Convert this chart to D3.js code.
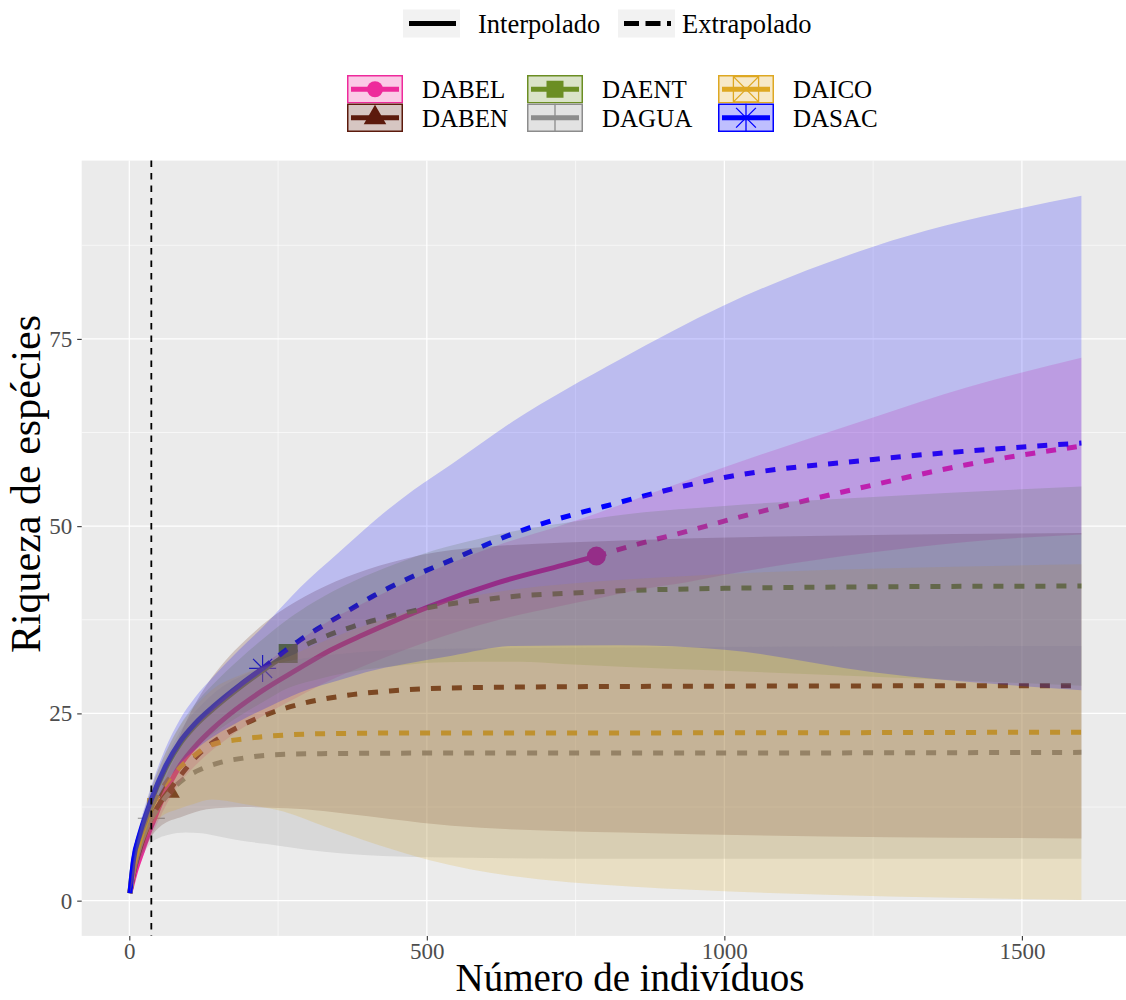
<!DOCTYPE html>
<html>
<head>
<meta charset="utf-8">
<script src="https://cdn.jsdelivr.net/npm/d3@7"></script>
<style>
  body { margin: 0; background: #ffffff; }
  svg { display: block; }
  text { font-family: "Liberation Serif", "Times New Roman", serif; }
</style>
</head>
<body>
<svg id="chart" width="1126" height="1000"></svg>
<script>
// Sample-size-based rarefaction / extrapolation curves (iNEXT style)
const siteNames   = ["DABEL", "DABEN", "DAENT", "DAGUA", "DAICO", "DASAC"];
const siteColors  = ["#EE2A9B", "#5C1A0C", "#6B8E23", "#8C8C8C", "#DEA822", "#0000FF"];
const siteShapes  = ["circle", "triangle", "square", "plus", "squareCross", "asterisk"];
const observedN   = [785, 66, 267, 37, 40, 224];
const referenceSize = 37;

// number of individuals (m), estimated richness, lower and upper 95% limits
const dabelM   = [1, 10, 21, 32, 40, 57, 85, 113, 141, 169, 225, 281, 337, 393, 505, 617, 729, 785, 864, 937, 1001, 1250, 1407, 1600];
const dabelEst = [1, 3.8, 6.4, 8.9, 10.5, 13.8, 18.0, 20.8, 23.0, 24.9, 28.1, 30.8, 33.4, 35.5, 39.3, 42.4, 44.8, 46.0, 47.8, 49.3, 50.7, 55.5, 58.2, 60.7];
const dabelLo  = [1, 3.2, 5.5, 7.7, 9.1, 12.0, 15.7, 18.2, 20.2, 21.9, 24.7, 27.1, 29.4, 31.3, 34.7, 37.4, 39.4, 40.3, 41.6, 42.5, 43.5, 46.5, 47.9, 48.9];
const dabelHi  = [1, 4.4, 7.3, 10.1, 11.9, 15.6, 20.3, 23.4, 25.8, 27.9, 31.5, 34.5, 37.4, 39.7, 43.9, 47.4, 50.2, 51.7, 54.0, 56.1, 57.9, 64.5, 68.5, 72.5];

const dabenM   = [1, 5, 10, 20, 30, 40, 52, 66, 85, 110, 130, 161, 194, 236, 295, 365, 438, 542, 830, 1600];
const dabenEst = [1, 2.9, 4.7, 7.5, 9.7, 11.5, 13.1, 14.6, 16.6, 19.0, 20.5, 22.2, 23.6, 25.0, 26.4, 27.4, 28.0, 28.4, 28.6, 28.7];
const dabenLo  = [1, 2.2, 3.7, 5.9, 7.6, 8.9, 9.9, 10.6, 11.1, 11.8, 12.2, 12.4, 12.5, 12.4, 12.2, 11.6, 10.9, 10.0, 9.1, 8.3];
const dabenHi  = [1, 3.6, 5.7, 9.1, 11.8, 14.1, 16.3, 18.6, 22.1, 26.2, 28.8, 32.0, 34.7, 37.6, 40.6, 43.2, 45.1, 46.8, 48.1, 49.1];

const daentM   = [1, 7, 18, 29, 37, 60, 85, 110, 141, 186, 224, 267, 309, 376, 446, 514, 587, 657, 729, 836, 1000, 1250, 1600];
const daentEst = [1, 5.2, 8.8, 11.5, 13.3, 17.5, 20.9, 23.3, 25.6, 28.5, 30.7, 33.0, 34.6, 36.6, 38.1, 39.3, 40.1, 40.7, 41.0, 41.4, 41.7, 41.9, 42.0];
const daentLo  = [1, 4.5, 7.7, 10.1, 11.7, 15.4, 18.4, 20.4, 22.3, 24.7, 26.5, 28.4, 29.4, 30.6, 31.3, 31.8, 31.9, 31.9, 31.6, 31.2, 30.7, 29.9, 28.7];
const daentHi  = [1, 5.9, 9.9, 12.9, 14.9, 19.6, 23.4, 26.2, 28.9, 32.3, 34.9, 37.6, 39.8, 42.6, 44.9, 46.8, 48.3, 49.5, 50.4, 51.6, 52.7, 53.9, 55.3];

const daguaM   = [1, 5, 10, 18, 27, 37, 66, 94, 122, 155, 189, 228, 298, 505, 836, 1600];
const daguaEst = [1, 3.0, 4.9, 7.3, 9.3, 11.0, 14.3, 16.4, 17.6, 18.5, 19.0, 19.4, 19.6, 19.7, 19.7, 19.8];
const daguaLo  = [1, 2.2, 3.6, 5.3, 6.7, 7.7, 8.8, 9.1, 9.0, 8.5, 8.0, 7.6, 6.8, 5.8, 5.6, 5.6];
const daguaHi  = [1, 3.8, 6.2, 9.3, 11.9, 14.3, 19.8, 23.7, 26.2, 28.5, 30.0, 31.2, 32.4, 33.6, 33.8, 34.0];

const daicoM   = [1, 5, 10, 20, 30, 40, 52, 85, 108, 138, 192, 259, 332, 505, 841, 1600];
const daicoEst = [1, 3.4, 5.5, 8.6, 10.9, 12.9, 14.6, 17.8, 19.3, 20.8, 21.6, 22.1, 22.3, 22.4, 22.4, 22.5];
const daicoLo  = [1, 2.6, 4.3, 6.8, 8.6, 10.1, 11.1, 12.3, 12.9, 13.5, 12.9, 11.9, 9.8, 5.4, 1.9, 0.1];
const daicoHi  = [1, 4.2, 6.7, 10.4, 13.2, 15.7, 18.1, 23.3, 25.7, 28.1, 30.3, 32.3, 34.8, 39.4, 42.9, 44.9];

const dasacM   = [1, 7, 18, 29, 37, 60, 85, 110, 141, 186, 224, 287, 351, 413, 477, 542, 645, 825, 1000, 1250, 1600];
const dasacEst = [1, 5.4, 9.0, 11.7, 13.5, 17.8, 21.2, 23.6, 25.9, 28.8, 31.0, 34.8, 37.9, 40.8, 43.3, 45.5, 49.0, 53.2, 56.5, 58.9, 61.1];
const dasacLo  = [1, 4.6, 7.7, 10.1, 11.7, 15.4, 18.2, 20.1, 21.9, 24.0, 25.5, 27.8, 29.4, 30.8, 31.8, 32.7, 34.0, 34.1, 33.5, 30.5, 28.1];
const dasacHi  = [1, 6.2, 10.3, 13.3, 15.3, 20.2, 24.2, 27.1, 29.9, 33.6, 36.5, 41.8, 46.4, 50.8, 54.8, 58.3, 64.0, 72.3, 79.5, 87.3, 94.1];

const xTicks = [0, 500, 1000, 1500];
const yTicks = [0, 25, 50, 75];
const xLabel = "Número de indivíduos";
const yLabel = "Riqueza de espécies";
const methodLabels = ["Interpolado", "Extrapolado"];

const curves = [
  [dabelM, dabelEst, dabelLo, dabelHi],
  [dabenM, dabenEst, dabenLo, dabenHi],
  [daentM, daentEst, daentLo, daentHi],
  [daguaM, daguaEst, daguaLo, daguaHi],
  [daicoM, daicoEst, daicoLo, daicoHi],
  [dasacM, dasacEst, dasacLo, dasacHi]
];

const sites = siteNames.map((name, i) => {
  const [m, est, lo, hi] = curves[i];
  const rows = m.map((v, j) => ({ m: v, est: est[j], lo: lo[j], hi: hi[j] }));
  const n = observedN[i];
  return {
    name, color: siteColors[i], shape: siteShapes[i], n,
    rows,
    interp: rows.filter(r => r.m <= n),
    extrap: rows.filter(r => r.m >= n),
    obs: rows.find(r => r.m === n)
  };
});

const svg = d3.select("#chart");
const panel = { left: 81.7, right: 1129, top: 160.6, bottom: 935.9 };

const allX = sites.flatMap(s => s.rows.map(r => r.m));
const allY = sites.flatMap(s => s.rows.flatMap(r => [r.lo, r.hi]));
const xMin = 0, xMax = d3.max(allX);
const yMin = 0, yMax = d3.max(allY);
const xPad = (xMax - xMin) * 0.05, yPad = (yMax - yMin) * 0.05;

const x = d3.scaleLinear().domain([xMin - xPad, xMax + xPad]).range([panel.left, panel.right]);
const y = d3.scaleLinear().domain([yMin - yPad, yMax + yPad]).range([panel.bottom, panel.top]);

// panel background and grid
svg.append("rect")
  .attr("x", panel.left).attr("y", panel.top)
  .attr("width", panel.right - panel.left).attr("height", panel.bottom - panel.top)
  .attr("fill", "#EBEBEB");

const xMinor = [250, 750, 1250];
const yMinor = [12.5, 37.5, 62.5, 87.5];
const grid = svg.append("g");
grid.selectAll(".xminor").data(xMinor).join("line")
  .attr("x1", d => x(d)).attr("x2", d => x(d)).attr("y1", panel.top).attr("y2", panel.bottom)
  .attr("stroke", "#ffffff").attr("stroke-width", 0.6);
grid.selectAll(".yminor").data(yMinor).join("line")
  .attr("x1", panel.left).attr("x2", panel.right).attr("y1", d => y(d)).attr("y2", d => y(d))
  .attr("stroke", "#ffffff").attr("stroke-width", 0.6);
grid.selectAll(".xmajor").data(xTicks).join("line")
  .attr("x1", d => x(d)).attr("x2", d => x(d)).attr("y1", panel.top).attr("y2", panel.bottom)
  .attr("stroke", "#ffffff").attr("stroke-width", 1.2);
grid.selectAll(".ymajor").data(yTicks).join("line")
  .attr("x1", panel.left).attr("x2", panel.right).attr("y1", d => y(d)).attr("y2", d => y(d))
  .attr("stroke", "#ffffff").attr("stroke-width", 1.2);

// marker shapes
function markerPath(shape, s) {
  const h = s / 2;
  switch (shape) {
    case "circle": return d3.symbol(d3.symbolCircle, Math.PI * h * h)();
    case "square": return d3.symbol(d3.symbolSquare, s * s)();
    case "triangle": return d3.symbol(d3.symbolTriangle, s * s * 0.5)();
    case "plus": return `M${-h},0H${h}M0,${-h}V${h}`;
    case "asterisk": {
      const a = h * 0.707;
      return `M${-h},0H${h}M0,${-h}V${h}M${-a},${-a}L${a},${a}M${-a},${a}L${a},${-a}`;
    }
    case "squareCross": {
      const q = h * 0.9;
      return `M${-q},${-q}H${q}V${q}H${-q}ZM${-q},${-q}L${q},${q}M${-q},${q}L${q},${-q}`;
    }
  }
}
const filledShapes = new Set(["circle", "square", "triangle"]);
function drawMarker(g, shape, color, cx, cy, s, sw) {
  const filled = filledShapes.has(shape);
  g.append("path")
    .attr("d", markerPath(shape, s))
    .attr("transform", `translate(${cx},${cy})`)
    .attr("fill", filled ? color : "none")
    .attr("stroke", filled ? "none" : color)
    .attr("stroke-width", filled ? 0 : (sw || 1.4));
}

const plot = svg.append("g");

// observed points
const pointSize = { circle: 19, square: 19, triangle: 21, plus: 27, asterisk: 27, squareCross: 12 };
const pointsG = plot.append("g");
sites.forEach(s => {
  drawMarker(pointsG, s.shape, s.color, x(s.obs.m), y(s.obs.est), pointSize[s.shape], 1.2);
});

// interpolated (solid) and extrapolated (dashed) curves
const line = d3.line().x(d => x(d.m)).y(d => y(d.est)).curve(d3.curveMonotoneX);
const linesG = plot.append("g").attr("fill", "none");
sites.forEach(s => {
  linesG.append("path").attr("d", line(s.interp))
    .attr("stroke", s.color).attr("stroke-width", 5);
  linesG.append("path").attr("d", line(s.extrap))
    .attr("stroke", s.color).attr("stroke-width", 5)
    .attr("stroke-dasharray", "10,11");
});

// confidence bands
const band = d3.area().x(d => x(d.m)).y0(d => y(d.lo)).y1(d => y(d.hi)).curve(d3.curveMonotoneX);
const bandsG = plot.append("g");
sites.forEach(s => {
  bandsG.append("path").attr("d", band(s.rows))
    .attr("fill", s.color).attr("fill-opacity", 0.2);
});

// reference sample size
plot.append("line")
  .attr("x1", x(referenceSize)).attr("x2", x(referenceSize))
  .attr("y1", panel.top).attr("y2", panel.bottom)
  .attr("stroke", "#000000").attr("stroke-width", 1.8)
  .attr("stroke-dasharray", "6.5,6");

// axes
const axisColor = "#333333";
const tickText = "#4D4D4D";
const xAxis = svg.append("g").attr("transform", `translate(0,${panel.bottom})`)
  .call(d3.axisBottom(x).tickValues(xTicks).tickFormat(d3.format("d")).tickSize(4.5).tickPadding(2));
const yAxis = svg.append("g").attr("transform", `translate(${panel.left},0)`)
  .call(d3.axisLeft(y).tickValues(yTicks).tickFormat(d3.format("d")).tickSize(4.5).tickPadding(5));
[xAxis, yAxis].forEach(a => {
  a.select(".domain").remove();
  a.selectAll(".tick line").attr("stroke", axisColor).attr("stroke-width", 1.1);
  a.selectAll(".tick text").attr("fill", tickText).attr("font-size", 23);
});

svg.append("text")
  .attr("x", 630).attr("y", 991)
  .attr("text-anchor", "middle").attr("font-size", 39).attr("fill", "#000")
  .text(xLabel);
svg.append("text")
  .attr("transform", `translate(40,484) rotate(-90)`)
  .attr("text-anchor", "middle").attr("font-size", 42).attr("fill", "#000")
  .text(yLabel);

// legend: method (line type)
const methodLegend = svg.append("g");
const methodKeys = [{ x: 403, dash: null }, { x: 618, dash: "15,6.5" }];
methodKeys.forEach((k, i) => {
  methodLegend.append("rect").attr("x", k.x).attr("y", 9.5).attr("width", 57).attr("height", 28)
    .attr("fill", "#F2F2F2");
  methodLegend.append("line").attr("x1", k.x + 6).attr("x2", k.x + 53).attr("y1", 23.5).attr("y2", 23.5)
    .attr("stroke", "#000").attr("stroke-width", 5)
    .attr("stroke-dasharray", k.dash);
  methodLegend.append("text").attr("x", k.x + (i === 0 ? 75 : 64)).attr("y", 33)
    .attr("font-size", 26.5).attr("fill", "#000").text(methodLabels[i]);
});

// legend: sites
const siteLegend = svg.append("g");
const colX = [347, 527, 718];
const rowY = [75, 103.5];
const keySize = { circle: 16, square: 17, triangle: 21, plus: 28, asterisk: 28, squareCross: 28 };
sites.forEach((s, i) => {
  const col = Math.floor(i / 2), row = i % 2;
  const kx = colX[col], ky = rowY[row], kw = 56, kh = 28.5;
  const g = siteLegend.append("g");
  g.append("rect").attr("x", kx).attr("y", ky).attr("width", kw).attr("height", kh).attr("fill", "#ffffff");
  drawMarker(g, s.shape, s.color, kx + kw / 2, ky + kh / 2, keySize[s.shape], 1.3);
  g.append("line").attr("x1", kx + 4).attr("x2", kx + kw - 4).attr("y1", ky + kh / 2).attr("y2", ky + kh / 2)
    .attr("stroke", s.color).attr("stroke-width", 5);
  g.append("rect").attr("x", kx + 0.75).attr("y", ky + 0.75).attr("width", kw - 1.5).attr("height", kh - 1.5)
    .attr("fill", s.color).attr("fill-opacity", 0.25)
    .attr("stroke", s.color).attr("stroke-width", 1.5);
  g.append("text").attr("x", kx + 75).attr("y", ky + 23)
    .attr("font-size", 25).attr("fill", "#000").text(s.name);
});
</script>
</body>
</html>
